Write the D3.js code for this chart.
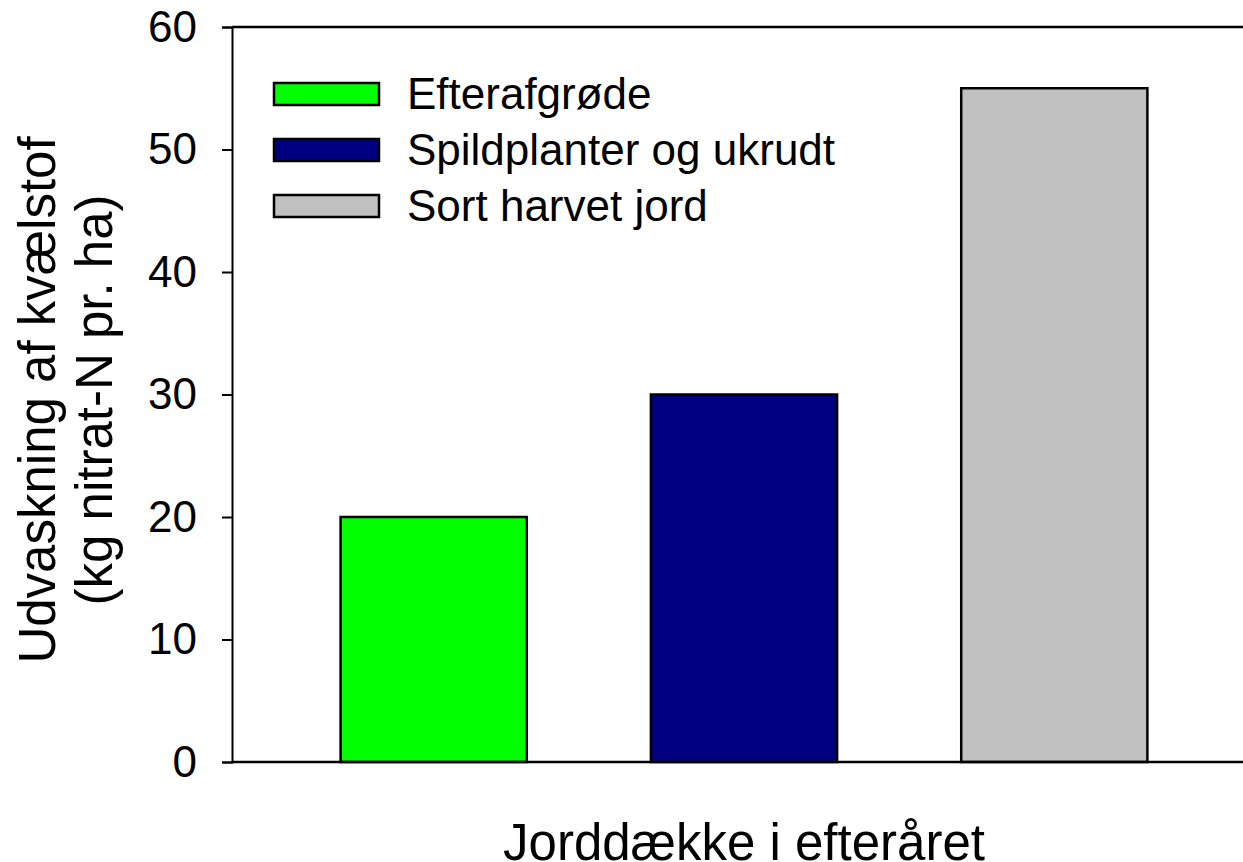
<!DOCTYPE html>
<html lang="da">
<head>
<meta charset="UTF-8">
<title>Udvaskning af kvælstof</title>
<script src="https://cdnjs.cloudflare.com/ajax/libs/d3/7.8.5/d3.min.js"></script>
<style>
  html, body { margin: 0; padding: 0; background: #fff; }
  svg { display: block; font-family: "Liberation Sans", Arial, sans-serif; }
</style>
</head>
<body>
<div id="chart"></div>
<script>
// data
const categories = ["Efterafgrøde", "Spildplanter og ukrudt", "Sort harvet jord"];
const values = [20, 30, 55];
const colors = ["#00ff00", "#000080", "#c0c0c0"];
const yTicks = [0, 10, 20, 30, 40, 50, 60];

const width = 1243, height = 862;
const svg = d3.select("#chart").append("svg")
    .attr("width", width)
    .attr("height", height);

const x = d3.scaleBand()
    .domain(categories)
    .range([232, 1256])
    .paddingInner(0.4)
    .paddingOuter(0.35);

const y = d3.scaleLinear()
    .domain([0, 60])
    .range([762, 27]);

// bars
svg.append("g").selectAll("rect")
    .data(categories)
    .join("rect")
    .attr("x", d => x(d))
    .attr("y", (d, i) => y(values[i]))
    .attr("width", x.bandwidth())
    .attr("height", (d, i) => y(0) - y(values[i]))
    .attr("fill", (d, i) => colors[i])
    .attr("stroke", "#000")
    .attr("stroke-width", 2.5);

// y axis
const yAxis = svg.append("g")
    .attr("transform", "translate(232,0)")
    .call(d3.axisLeft(y).tickValues(yTicks).tickSize(10).tickPadding(25).tickFormat(d3.format("d")));
yAxis.select(".domain").attr("stroke-width", 2);
yAxis.selectAll(".tick line").attr("stroke-width", 2);
yAxis.selectAll(".tick text")
    .attr("font-size", 44)
    .attr("fill", "#000")
    .style("font-family", "'Liberation Sans', Arial, sans-serif");

// bottom and top frame lines
svg.append("line")
    .attr("x1", 232).attr("x2", width)
    .attr("y1", y(0)).attr("y2", y(0))
    .attr("stroke", "#000").attr("stroke-width", 2.5);
svg.append("line")
    .attr("x1", 232).attr("x2", width)
    .attr("y1", y(60)).attr("y2", y(60))
    .attr("stroke", "#000").attr("stroke-width", 2.5);

// legend
const legend = svg.append("g").attr("transform", "translate(274,94)");
const item = legend.selectAll("g")
    .data(categories)
    .join("g")
    .attr("transform", (d, i) => `translate(0,${i * 56})`);
item.append("rect")
    .attr("x", 0).attr("y", -11)
    .attr("width", 105).attr("height", 22)
    .attr("fill", (d, i) => colors[i])
    .attr("stroke", "#000")
    .attr("stroke-width", 2.5);
item.append("text")
    .attr("x", 133).attr("y", 15)
    .attr("font-size", 44)
    .text(d => d);

// axis titles
svg.append("text")
    .attr("x", 744).attr("y", 860)
    .attr("text-anchor", "middle")
    .attr("font-size", 51)
    .text("Jorddække i efteråret");

const yTitle = svg.append("text")
    .attr("transform", "translate(55,400) rotate(-90)")
    .attr("text-anchor", "middle")
    .attr("font-size", 51);
yTitle.append("tspan").attr("x", 0).attr("y", 0).text("Udvaskning af kvælstof");
yTitle.append("tspan").attr("x", 0).attr("y", 57).text("(kg nitrat-N pr. ha)");
</script>
</body>
</html>
